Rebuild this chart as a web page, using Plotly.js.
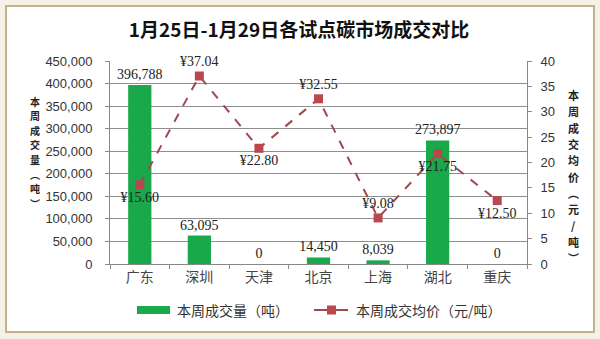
<!DOCTYPE html>
<html><head><meta charset="utf-8">
<script src="https://cdn.plot.ly/plotly-3.0.1.min.js"></script>
<style>html,body{margin:0;padding:0;background:#f6f1e6;}#chart{width:600px;height:339px;}</style>
</head><body><div id="chart"></div>
<script>
const categories = ['广东','深圳','天津','北京','上海','湖北','重庆'];
const volumes = [396788, 63095, 0, 14450, 8039, 273897, 0];
const prices = [15.60, 37.04, 22.80, 32.55, 9.08, 21.75, 12.50];
const priceLabelPos = ['bottom center','top center','bottom center','top center','top center','bottom center','bottom center'];
const volumeName = '本周成交量（吨）';
const priceName = '本周成交均价（元/吨）';
const titleText = '1月25日-1月29日各试点碳市场成交对比';
const leftTitleChars = ['本','周','成','交','量','︵','吨','︶'];
const rightTitleChars = ['本','周','成','交','均','价','︵','元','/','吨','︶'];

// pixel -> paper helpers (plot area: x 110..527, y 61..264)
const L = 110, R = 527, T = 61, B = 264;
const px = p => (p - L) / (R - L);
const py = p => (B - p) / (B - T);

const CJK = '"Noto Sans CJK SC", "Noto Sans", sans-serif';
const SERIF = '"Liberation Serif", "DejaVu Serif", serif';

const bar = {
  type: 'bar', x: categories, y: volumes, name: volumeName,
  marker: {color: '#19a84a'}, width: 0.39,
  text: volumes.map(v => v.toLocaleString('en-US')),
  textposition: 'outside', cliponaxis: false, constraintext: 'none',
  textfont: {family: SERIF, size: 14, color: '#222'},
  showlegend: false
};
const line = {
  type: 'scatter', mode: 'lines+markers+text', x: categories, y: prices, yaxis: 'y2', name: priceName,
  line: {color: '#9e4a50', width: 2, dash: 'dash'},
  marker: {symbol: 'square', size: 9, color: '#b8474f'},
  text: prices.map(v => '¥' + v.toFixed(2)),
  textposition: priceLabelPos, cliponaxis: false,
  textfont: {family: SERIF, size: 14, color: '#222'},
  showlegend: false
};

const annotations = [];
const leftY0 = 101, leftStep = 14.6;
leftTitleChars.forEach((c, i) => annotations.push({
  xref: 'paper', yref: 'paper', x: px(35), y: py(leftY0 + i * leftStep), xanchor: 'center', yanchor: 'middle',
  showarrow: false, text: c, font: {family: CJK, size: 10, color: '#222', weight: 'bold'}
}));
const rightY0 = 95, rightStep = 16.3;
rightTitleChars.forEach((c, i) => annotations.push({
  xref: 'paper', yref: 'paper', x: px(573), y: py(rightY0 + i * rightStep), xanchor: 'center', yanchor: 'middle',
  showarrow: false, text: c, font: {family: CJK, size: 11, color: '#222', weight: 'bold'}
}));
annotations.push(
  {xref: 'paper', yref: 'paper', x: px(175), y: py(310), xanchor: 'left', yanchor: 'middle', showarrow: false,
   text: volumeName, font: {family: CJK, size: 14, color: '#333'}},
  {xref: 'paper', yref: 'paper', x: px(354), y: py(310), xanchor: 'left', yanchor: 'middle', showarrow: false,
   text: priceName, font: {family: CJK, size: 14, color: '#333'}}
);

const layout = {
  width: 600, height: 339,
  margin: {l: L, r: 600 - R, t: T, b: 339 - B, pad: 0},
  paper_bgcolor: '#f6f1e6', plot_bgcolor: 'rgba(0,0,0,0)',
  showlegend: false,
  title: {text: titleText, font: {family: CJK, size: 19, color: '#111', weight: 'bold'}, x: px(299), xref: 'paper', xanchor: 'center', y: 1 - 30/339, yanchor: 'middle'},
  xaxis: {
    type: 'category', showline: true, linecolor: '#888', linewidth: 1,
    ticks: 'outside', tickson: 'boundaries', ticklen: 4, tickcolor: '#888',
    tickfont: {family: CJK, size: 14, color: '#444'}, showgrid: false, zeroline: false
  },
  yaxis: {
    range: [0, 450000], dtick: 50000, tickformat: ',d',
    showline: true, linecolor: '#888', ticks: 'outside', ticklen: 4, tickcolor: '#888',
    ticklabelstandoff: 10,
    tickfont: {family: '"Liberation Sans", sans-serif', size: 13, color: '#333'},
    showgrid: true, gridcolor: '#8f8f8f', gridwidth: 1.2, zeroline: false
  },
  yaxis2: {
    overlaying: 'y', side: 'right', range: [0, 40], dtick: 5,
    showline: true, linecolor: '#888', ticks: 'outside', ticklen: 4, tickcolor: '#888',
    ticklabelstandoff: 6,
    tickfont: {family: '"Liberation Sans", sans-serif', size: 13, color: '#333'},
    showgrid: false, zeroline: false
  },
  shapes: [
    {type: 'rect', xref: 'paper', yref: 'paper', x0: px(6), x1: px(594), y0: py(332), y1: py(6),
     fillcolor: '#ffffff', line: {color: '#c6b08a', width: 2}, layer: 'below'},
    {type: 'rect', xref: 'paper', yref: 'paper', x0: px(137), x1: px(170), y0: py(314), y1: py(306),
     fillcolor: '#19a84a', line: {width: 0}},
    {type: 'line', xref: 'paper', yref: 'paper', x0: px(314), x1: px(348), y0: py(310), y1: py(310),
     line: {color: '#9e4a50', width: 2}},
    {type: 'rect', xref: 'paper', yref: 'paper', x0: px(327), x1: px(336), y0: py(314.5), y1: py(305.5),
     fillcolor: '#b8474f', line: {width: 0}}
  ],
  annotations: annotations
};

Plotly.newPlot('chart', [bar, line], layout, {displayModeBar: false, staticPlot: true});
</script></body></html>
